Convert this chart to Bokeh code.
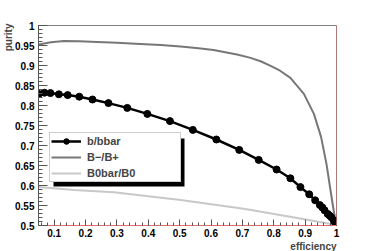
from bokeh.plotting import figure
from bokeh.models import (FixedTicker, CustomJSTickFormatter, Legend, LegendItem,
                          Title, Span, BoxAnnotation, Range1d)
from bokeh.embed import file_html
from bokeh.resources import INLINE

# ---- data ----
bb_eff = [0.051, 0.069, 0.088, 0.115, 0.143, 0.180, 0.222, 0.273, 0.333, 0.397,
          0.469, 0.542, 0.617, 0.690, 0.752, 0.809, 0.853, 0.885, 0.913, 0.932,
          0.947, 0.955, 0.962, 0.972, 0.978, 0.983, 0.991, 0.995, 0.999]
bb_pur = [0.829, 0.832, 0.831, 0.828, 0.826, 0.822, 0.815, 0.806, 0.794, 0.779,
          0.761, 0.739, 0.715, 0.689, 0.664, 0.640, 0.618, 0.596, 0.578, 0.563,
          0.551, 0.545, 0.538, 0.529, 0.525, 0.521, 0.513, 0.508, 0.503]

bpm_eff = [0.05, 0.09, 0.131, 0.18, 0.237, 0.30, 0.375, 0.44, 0.503, 0.56,
           0.608, 0.683, 0.726, 0.760, 0.790, 0.820, 0.853, 0.896, 0.928, 0.951,
           0.968, 0.981, 0.991, 1.0]
bpm_pur = [0.9525, 0.958, 0.961, 0.9605, 0.959, 0.957, 0.954, 0.951, 0.9475, 0.943,
           0.939, 0.9275, 0.919, 0.910, 0.899, 0.887, 0.869, 0.829, 0.779, 0.721,
           0.654, 0.5875, 0.5375, 0.5]

b0_eff = [0.05, 0.163, 0.29, 0.503, 0.704, 0.875, 0.991]
b0_pur = [0.596, 0.589, 0.583, 0.564, 0.542, 0.519, 0.5025]

x_ticks = [0.1, 0.2, 0.3, 0.4, 0.5, 0.6, 0.7, 0.8, 0.9, 1.0]
y_ticks = [0.5, 0.55, 0.6, 0.65, 0.7, 0.75, 0.8, 0.85, 0.9, 0.95, 1.0]

W, H = 374, 251
FL, FR, FT, FB = 38, 38, 25, 26
FONT = "Liberation Sans"

p = figure(width=W, height=H, output_backend="svg", toolbar_location=None,
           x_range=Range1d(0.05, 1.0), y_range=Range1d(0.5, 1.0),
           min_border_left=FL, min_border_right=FR, min_border_top=FT,
           min_border_bottom=FB)
p.margin = (0, 0, 0, 0)
p.background_fill_color = "white"
p.border_fill_color = "white"
p.xgrid.visible = False
p.ygrid.visible = False
p.outline_line_color = "#808080"
p.outline_line_width = 1

fmt = CustomJSTickFormatter(code="return (Math.round(tick*100)/100).toString();")

x_minor = [round(0.06 + 0.02 * i, 2) for i in range(48)]
y_minor = [round(0.5 + 0.01 * i, 2) for i in range(51)]

xa = p.xaxis[0]
xa.ticker = FixedTicker(ticks=x_ticks, minor_ticks=x_minor)
xa.formatter = fmt
xa.major_tick_in = 6
xa.major_tick_out = 0
xa.minor_tick_in = 3
xa.minor_tick_out = 0
xa.axis_line_color = "#e07070"
xa.major_tick_line_color = "#555555"
xa.minor_tick_line_color = "#555555"
xa.major_label_text_font = FONT
xa.major_label_text_font_style = "bold"
xa.major_label_text_font_size = "10px"
xa.major_label_text_color = "black"
xa.major_label_standoff = 3

ya = p.yaxis[0]
ya.ticker = FixedTicker(ticks=y_ticks, minor_ticks=y_minor)
ya.formatter = fmt
ya.major_tick_in = 9
ya.major_tick_out = 0
ya.minor_tick_in = 4
ya.minor_tick_out = 0
ya.axis_line_color = "#555555"
ya.major_tick_line_color = "#555555"
ya.minor_tick_line_color = "#555555"
ya.major_label_text_font = FONT
ya.major_label_text_font_style = "bold"
ya.major_label_text_font_size = "10px"
ya.major_label_text_color = "black"
ya.major_label_standoff = 4

p.add_layout(Span(location=1.0, dimension="height", line_color="#e07070", line_width=1))

# curves
r_b0 = p.line(b0_eff, b0_pur, line_color="#c8c8c8", line_width=2)
r_bpm = p.line(bpm_eff, bpm_pur, line_color="#777777", line_width=2)
r_bbl = p.line(bb_eff, bb_pur, line_color="black", line_width=2.5)
r_bbc = p.scatter(bb_eff, bb_pur, size=7, marker="circle", fill_color="black",
                  line_color="black")

# legend shadow
p.add_layout(BoxAnnotation(left=15, right=146, bottom=39, top=87,
                           left_units="screen", right_units="screen",
                           bottom_units="screen", top_units="screen",
                           fill_color="black", fill_alpha=1.0, line_color=None,
                           level="overlay"))

legend = Legend(items=[LegendItem(label="b/bbar", renderers=[r_bbl, r_bbc]),
                       LegendItem(label="B\u2212/B+", renderers=[r_bpm]),
                       LegendItem(label="B0bar/B0", renderers=[r_b0])],
                location=(11, 43), padding=1, spacing=2, margin=0,
                label_height=14, glyph_height=14, glyph_width=30,
                label_standoff=6, label_width=92,
                border_line_color="#999999", border_line_width=1,
                background_fill_color="white", background_fill_alpha=1.0,
                label_text_font=FONT, label_text_font_style="bold",
                label_text_font_size="11px")
p.add_layout(legend, "center")

# axis titles (ROOT style: at the end of each axis)
p.add_layout(Title(text="purity", align="right", text_font=FONT,
                   text_font_style="bold", text_font_size="10px",
                   standoff=-2, offset=-2), "left")
p.add_layout(Title(text="efficiency", align="right", text_font=FONT,
                   text_font_style="bold", text_font_size="10px",
                   standoff=-2, offset=0), "below")

open("out.html", "w").write(file_html(p, INLINE))
